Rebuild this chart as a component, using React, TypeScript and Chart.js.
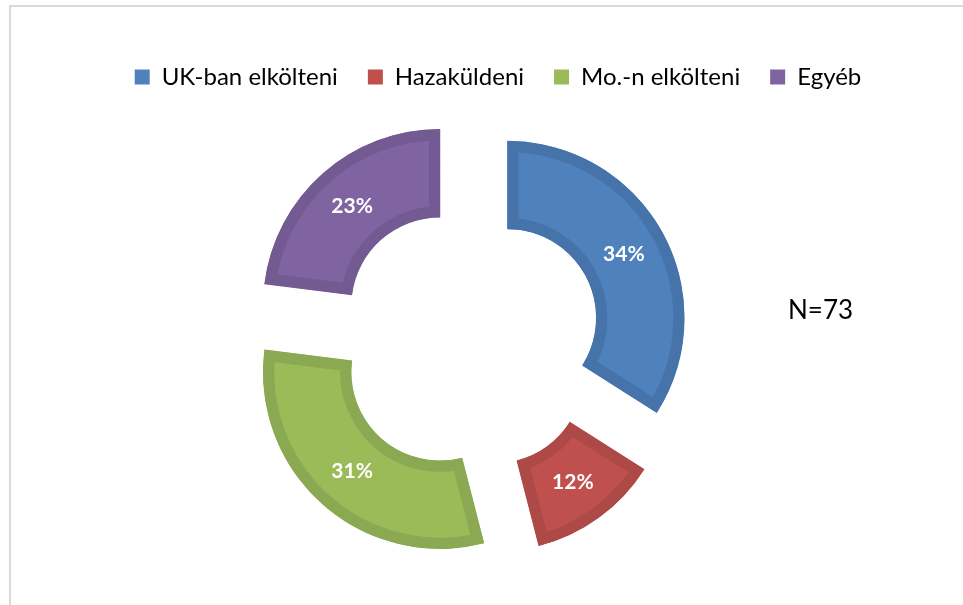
import React, { useEffect, useRef } from "react";
import { Chart, registerables, ArcElement } from "chart.js";

Chart.register(...registerables);

const categories = ["UK-ban elkölteni", "Hazaküldeni", "Mo.-n elkölteni", "Egyéb"];
const values = [34, 12, 31, 23];
const percentLabels = ["34%", "12%", "31%", "23%"];
const fillColors = ["#4F81BD", "#C0504D", "#9BBB59", "#8064A2"];
const borderColors = ["#4674AA", "#AD4946", "#8BA852", "#735A92"];
const noteText = "N=73";

const EXPLODE = 44;
const LEGEND_SHIFT = 29;

const explodePlugin = {
  id: "explode",
  afterUpdate(chart: any) {
    const meta = chart.getDatasetMeta(0);
    meta.data.forEach((arc: any) => {
      if (arc.__patched) return;
      arc.__patched = true;
      const orig = ArcElement.prototype.draw;
      arc.draw = function (ctx: CanvasRenderingContext2D) {
        const half = (this.startAngle + this.endAngle) / 2;
        ctx.save();
        ctx.translate(Math.cos(half) * EXPLODE, Math.sin(half) * EXPLODE);
        orig.call(this, ctx);
        ctx.restore();
      };
    });
  },
  afterLayout(chart: any) {
    if (chart.legend) {
      chart.legend.left += LEGEND_SHIFT;
      chart.legend.right += LEGEND_SHIFT;
    }
  },
  afterDatasetsDraw(chart: any) {
    const ctx = chart.ctx;
    const meta = chart.getDatasetMeta(0);
    ctx.save();
    ctx.fillStyle = "#ffffff";
    ctx.font = "bold 21px Lato";
    ctx.textAlign = "center";
    ctx.textBaseline = "middle";
    meta.data.forEach((arc: any, i: number) => {
      const half = (arc.startAngle + arc.endAngle) / 2;
      const r = (arc.innerRadius + arc.outerRadius) / 2 + EXPLODE;
      ctx.fillText(percentLabels[i], arc.x + Math.cos(half) * r, arc.y + Math.sin(half) * r);
    });
    ctx.fillStyle = "#000000";
    ctx.font = "26px Lato";
    ctx.textAlign = "left";
    ctx.fillText(noteText, 788, 311);
    ctx.restore();
  },
};

export default function App() {
  const ref = useRef<HTMLCanvasElement | null>(null);
  useEffect(() => {
    if (!ref.current) return;
    const chart = new Chart(ref.current, {
      type: "doughnut",
      data: {
        labels: categories,
        datasets: [
          {
            data: values,
            backgroundColor: fillColors,
            borderColor: borderColors,
            borderWidth: 11,
            borderAlign: "inner",
          } as any,
        ],
      },
      options: {
        responsive: false,
        animation: false,
        devicePixelRatio: 1,
        radius: 177,
        cutout: "50%",
        layout: { padding: { top: 35, bottom: 26, left: 0, right: 25 } },
        plugins: {
          legend: {
            position: "top",
            labels: {
              boxWidth: 15,
              boxHeight: 15,
              padding: 30,
              color: "#000000",
              font: { family: "Lato", size: 24 },
              generateLabels: (chart: any) =>
                categories.map((c, i) => ({
                  text: c,
                  fillStyle: fillColors[i],
                  strokeStyle: fillColors[i],
                  lineWidth: 0,
                  hidden: false,
                  index: i,
                  fontColor: "#000000",
                })),
            },
          },
          tooltip: { enabled: false },
        },
      } as any,
      plugins: [explodePlugin],
    });
    return () => chart.destroy();
  }, []);
  return (
    <div style={{ position: "fixed", left: 0, top: 0, width: 963, height: 605, overflow: "hidden", background: "#fff" }}>
      <div
        style={{
          position: "absolute",
          left: 9,
          top: 5,
          width: 1100,
          height: 800,
          border: "2px solid #d9d9d9",
          boxSizing: "border-box",
        }}
      />
      <canvas ref={ref} width={963} height={605} style={{ position: "absolute", left: 0, top: 0 }} />
    </div>
  );
}
